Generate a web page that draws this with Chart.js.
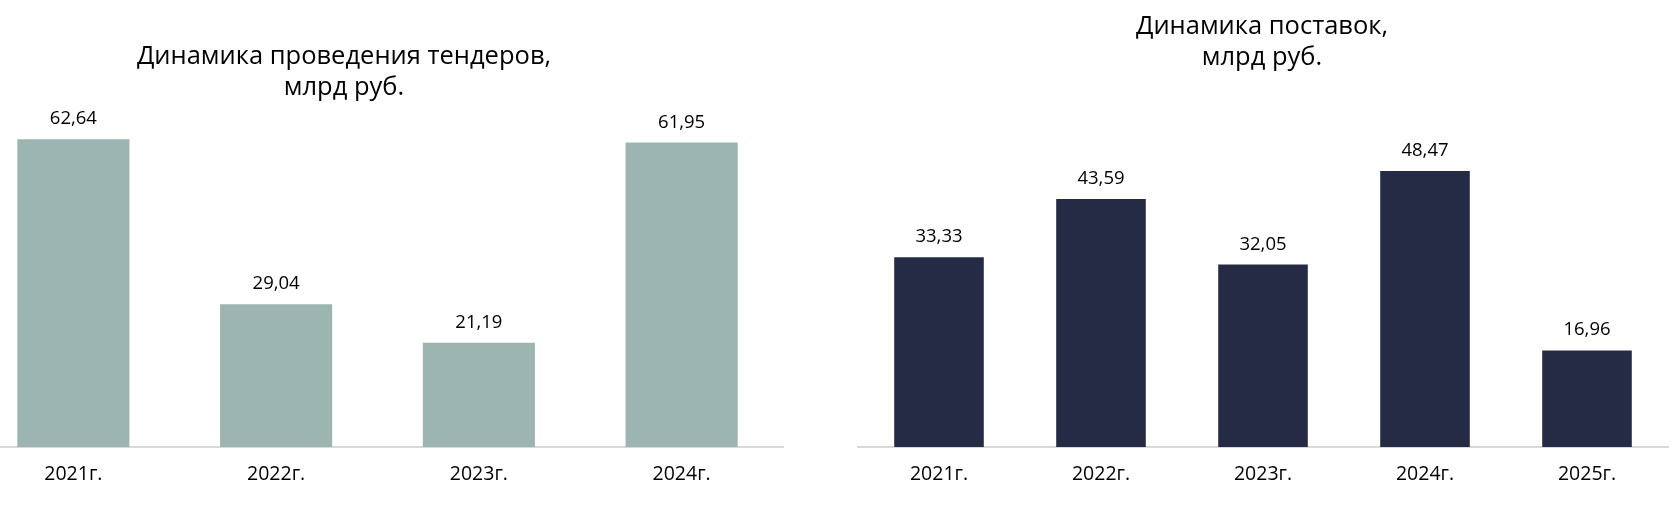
<!DOCTYPE html>
<html>
<head>
<meta charset="utf-8">
<script src="https://cdn.jsdelivr.net/npm/chart.js@4.4.1/dist/chart.umd.min.js"></script>
<style>
  html, body { margin: 0; padding: 0; background: #ffffff; }
  body { width: 1680px; height: 506px; position: relative; overflow: hidden; }
  #wrapL { position: absolute; left: 0; top: 0; width: 840px; height: 506px; overflow: hidden; }
  #boxL { position: absolute; left: -28px; top: 0; width: 820px; height: 506px; }
  #boxR { position: absolute; left: 840px; top: 0; width: 840px; height: 506px; }
</style>
</head>
<body>
<div id="wrapL"><div id="boxL"><canvas id="cL"></canvas></div></div>
<div id="boxR"><canvas id="cR"></canvas></div>
<script>
// ---- data ----
const tenderYears = ['2021г.', '2022г.', '2023г.', '2024г.'];
const tenderValues = [62.64, 29.04, 21.19, 61.95];
const tenderTitle = ['Динамика проведения тендеров,', 'млрд руб.'];

const supplyYears = ['2021г.', '2022г.', '2023г.', '2024г.', '2025г.'];
const supplyValues = [33.33, 43.59, 32.05, 48.47, 16.96];
const supplyTitle = ['Динамика поставок,', 'млрд руб.'];

const FONT = '"Open Sans", "Noto Sans", sans-serif';

const valueLabels = {
  id: 'valueLabels',
  afterDatasetsDraw(chart) {
    const ctx = chart.ctx;
    const meta = chart.getDatasetMeta(0);
    const vals = chart.data.datasets[0].data;
    ctx.save();
    ctx.fillStyle = '#000000';
    ctx.font = '18.5px ' + FONT;
    ctx.textAlign = 'center';
    ctx.textBaseline = 'alphabetic';
    meta.data.forEach((bar, i) => {
      const txt = vals[i].toFixed(2).replace('.', ',');
      ctx.fillText(txt, bar.x, bar.y - 15);
    });
    ctx.restore();
  }
};

const titleLines = {
  id: 'titleLines',
  afterDraw(chart, args, opts) {
    const ctx = chart.ctx;
    ctx.save();
    ctx.fillStyle = '#000000';
    ctx.font = opts.size + 'px ' + FONT;
    ctx.textAlign = 'center';
    ctx.textBaseline = 'alphabetic';
    opts.lines.forEach((line, i) => {
      ctx.fillText(line, opts.x, opts.y + i * opts.gap);
    });
    ctx.restore();
  }
};

function makeChart(id, labels, values, color, yMax, pad, title) {
  return new Chart(document.getElementById(id), {
    type: 'bar',
    data: {
      labels: labels,
      datasets: [{
        data: values,
        backgroundColor: color,
        borderWidth: 0,
        categoryPercentage: 1,
        barPercentage: 0.553
      }]
    },
    options: {
      responsive: true,
      maintainAspectRatio: false,
      animation: false,
      layout: { padding: pad },
      plugins: {
        legend: { display: false },
        tooltip: { enabled: false },
        title: { display: false },
        titleLines: title
      },
      scales: {
        x: {
          z: 1,
          grid: { display: false, drawTicks: false, tickLength: 0 },
          border: { display: true, color: '#d9d9d9', width: 2 },
          ticks: {
            color: '#000000',
            font: { family: FONT, size: 19.5 },
            padding: 16,
            maxRotation: 0
          },
          afterFit(scale) { scale.height = 59; }
        },
        y: {
          display: false,
          min: 0,
          max: yMax
        }
      }
    },
    plugins: [valueLabels, titleLines]
  });
}

makeChart('cL', tenderYears, tenderValues, '#9db5b1', 70,
  { top: 103, bottom: 0, left: 0, right: 9 },
  { lines: tenderTitle, x: 372, y: 63.5, gap: 31.5, size: 25.5 });

makeChart('cR', supplyYears, supplyValues, '#252a45', 60,
  { top: 105.5, bottom: 0, left: 18, right: 12 },
  { lines: supplyTitle, x: 422, y: 33.5, gap: 31.5, size: 25.5 });
</script>
</body>
</html>
